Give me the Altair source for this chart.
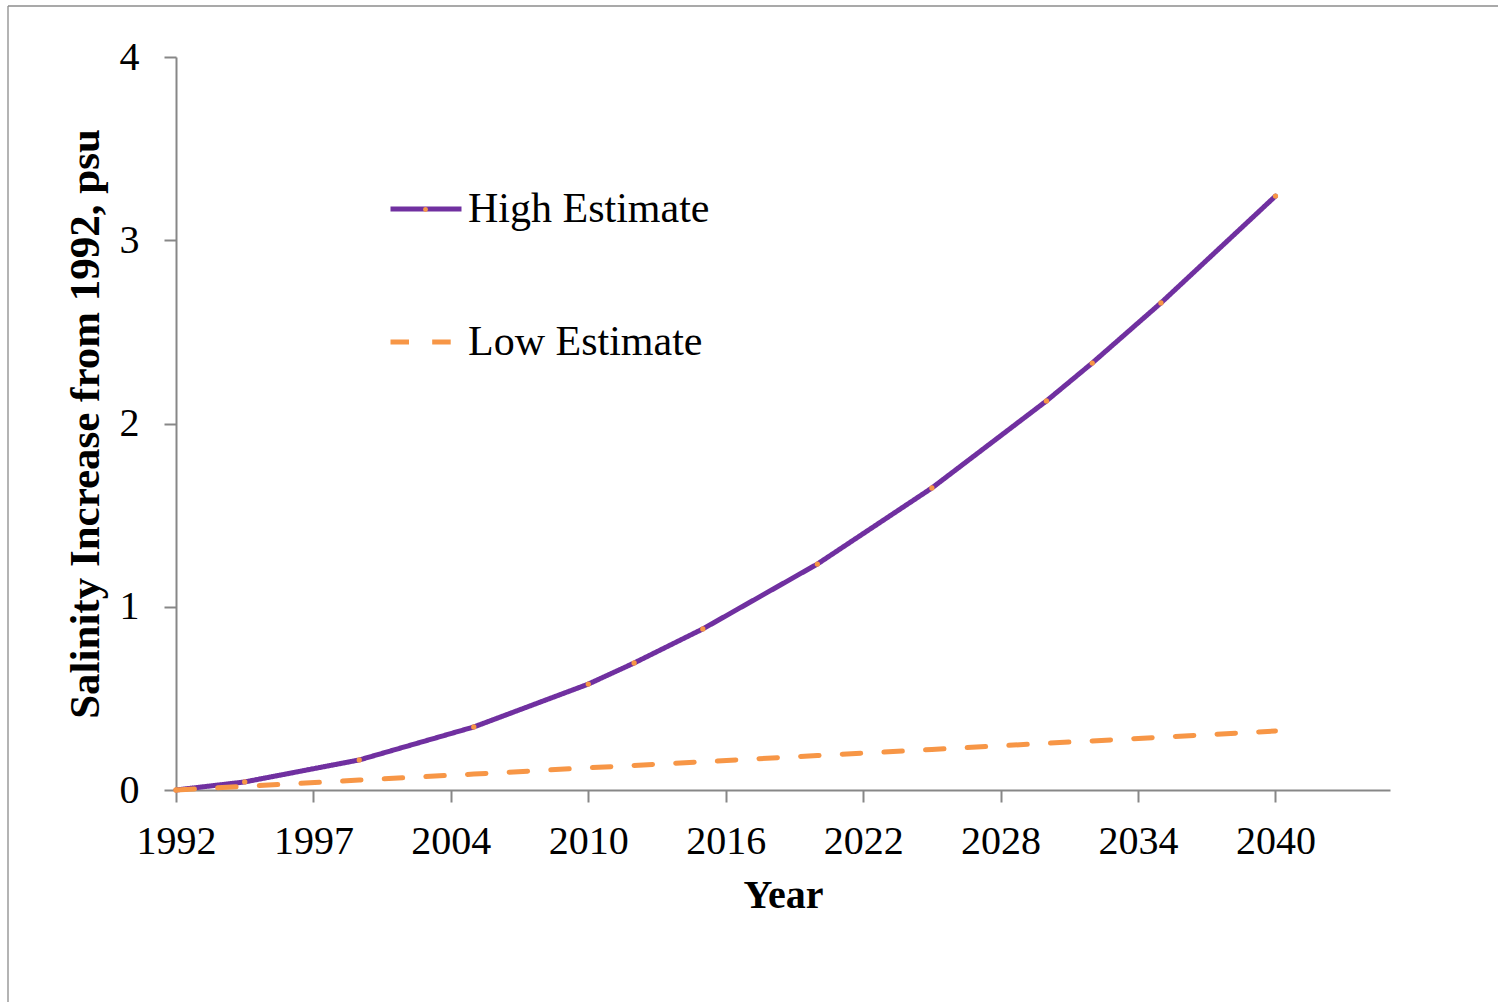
import altair as alt
import pandas as pd

# Projected salinity increase since 1992 (psu)
years = [1992, 1995, 2000, 2005, 2010, 2012, 2015, 2020, 2025, 2030, 2032, 2035, 2040]
high_estimate = [0.0, 0.044, 0.164, 0.344, 0.578, 0.693, 0.879, 1.233, 1.648, 2.123, 2.330, 2.658, 3.241]
low_estimate = [0.0, 0.020, 0.054, 0.087, 0.121, 0.134, 0.154, 0.188, 0.221, 0.255, 0.268, 0.288, 0.322]

series_names = ["High Estimate", "Low Estimate"]
series_colors = ["#7030A0", "#F79646"]
series_dashes = [[1, 0], [18.5, 23.2]]
marker_color = "#F79646"

# x-axis tick positions and the text printed under each
tick_years = [1992, 1998, 2004, 2010, 2016, 2022, 2028, 2034, 2040]
tick_labels = ["1992", "1997", "2004", "2010", "2016", "2022", "2028", "2034", "2040"]
y_ticks = [0, 1, 2, 3, 4]

n = len(years)
df = pd.DataFrame({
    "Year": years * 2,
    "Salinity": high_estimate + low_estimate,
    "Series": [series_names[0]] * n + [series_names[1]] * n,
})
df_high = df[df["Series"] == series_names[0]].rename(columns={"Series": "Marker"})

label_expr = "[{}][indexof([{}], datum.value)]".format(
    ",".join("'{}'".format(t) for t in tick_labels),
    ",".join(str(v) for v in tick_years),
)

SERIF = "Liberation Serif"
AXIS_GREY = "#878787"

x_enc = alt.X(
    "Year:Q",
    scale=alt.Scale(domain=[1992, 2045], nice=False, zero=False),
    axis=alt.Axis(
        values=tick_years, labelExpr=label_expr, title="Year",
        labelPadding=19, titlePadding=14, grid=False,
        labelFlush=False, labelOverlap=False,
    ),
)
y_enc = alt.Y(
    "Salinity:Q",
    scale=alt.Scale(domain=[0, 4], nice=False),
    axis=alt.Axis(
        values=y_ticks, format="d", title="Salinity Increase from 1992, psu",
        labelPadding=25, titlePadding=12, titleFontSize=43, grid=False,
        labelFlush=False, labelOverlap=False,
    ),
)

legend = alt.Legend(
    orient="none", legendX=212, legendY=114, title=None,
    symbolType="stroke", symbolSize=5041, symbolStrokeWidth=5,
    labelFont=SERIF, labelFontSize=42, labelColor="black", labelLimit=0,
    rowPadding=74, labelOffset=4,
)

# small marker dot drawn in the middle of the "High Estimate" legend line
marker_legend = alt.Legend(
    orient="none", legendX=247, legendY=150, title=None,
    symbolType="circle", symbolSize=24, symbolStrokeWidth=0,
    labelFontSize=1, labelOpacity=0, labelOffset=0,
)

lines = alt.Chart(df).mark_line(strokeWidth=5, strokeCap="round", strokeJoin="round").encode(
    x=x_enc,
    y=y_enc,
    color=alt.Color("Series:N", scale=alt.Scale(domain=series_names, range=series_colors), legend=legend),
    strokeDash=alt.StrokeDash(
        "Series:N", scale=alt.Scale(domain=series_names, range=series_dashes), legend=legend
    ),
    order=alt.Order("Year:Q"),
)

markers = alt.Chart(df_high).mark_circle(size=28, opacity=1).encode(
    x="Year:Q",
    y="Salinity:Q",
    fill=alt.Fill("Marker:N", scale=alt.Scale(domain=[series_names[0]], range=[marker_color]), legend=marker_legend),
)

# outer frame of the chart area
frame_left = alt.Chart(alt.Data(values=[{}])).mark_rule(color="#8c8c8c", strokeWidth=1.3).encode(
    x=alt.value(-168), y=alt.value(-51), y2=alt.value(960)
)
frame_top = alt.Chart(alt.Data(values=[{}])).mark_rule(color="#8c8c8c", strokeWidth=1.3).encode(
    x=alt.value(-168), x2=alt.value(1330), y=alt.value(-51)
)

chart = alt.layer(frame_left, frame_top, lines, markers).properties(
    width=1214,
    height=733,
    autosize=alt.AutoSizeParams(type="none"),
    padding={"left": 176, "top": 57, "right": 108, "bottom": 212},
    background="white",
).configure_view(
    stroke=None
).configure_axis(
    labelFont=SERIF, labelFontSize=40, labelColor="black",
    titleFont=SERIF, titleFontSize=40, titleFontWeight="bold", titleColor="black",
    domainColor=AXIS_GREY, domainWidth=2, tickColor=AXIS_GREY, tickWidth=2, tickSize=12,
)

chart.save("out.html", embed_options={"renderer": "svg", "actions": False})
